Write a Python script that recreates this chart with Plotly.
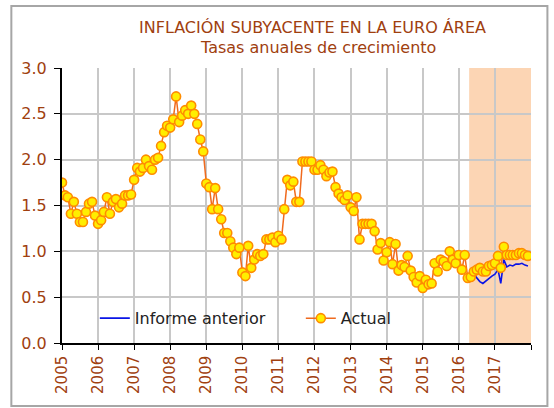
import pandas as pd
import plotly.graph_objects as go

# Monthly annual growth rates (%), Jan 2005 - Dec 2017
actual_2005 = [1.75, 1.61, 1.59, 1.41, 1.54, 1.41, 1.32, 1.32, 1.43, 1.52, 1.54, 1.39]
actual_2006 = [1.30, 1.34, 1.43, 1.59, 1.41, 1.54, 1.57, 1.48, 1.52, 1.61, 1.61, 1.62]
actual_2007 = [1.78, 1.91, 1.87, 1.91, 2.00, 1.93, 1.89, 2.00, 2.02, 2.15, 2.30, 2.37]
actual_2008 = [2.35, 2.44, 2.69, 2.41, 2.48, 2.54, 2.50, 2.59, 2.50, 2.39, 2.22, 2.09]
actual_2009 = [1.74, 1.70, 1.46, 1.69, 1.46, 1.35, 1.20, 1.20, 1.11, 1.04, 0.97, 1.04]
actual_2010 = [0.77, 0.73, 1.06, 0.82, 0.91, 0.97, 0.95, 0.97, 1.13, 1.13, 1.15, 1.10]
actual_2011 = [1.17, 1.13, 1.46, 1.78, 1.72, 1.76, 1.54, 1.54, 1.98, 1.98, 1.98, 1.98]
actual_2012 = [1.89, 1.89, 1.94, 1.89, 1.82, 1.86, 1.87, 1.70, 1.63, 1.59, 1.56, 1.61]
actual_2013 = [1.48, 1.44, 1.59, 1.13, 1.30, 1.30, 1.30, 1.30, 1.22, 1.02, 1.09, 0.90]
actual_2014 = [0.99, 1.10, 0.86, 1.08, 0.79, 0.85, 0.83, 0.95, 0.79, 0.72, 0.66, 0.73]
actual_2015 = [0.60, 0.69, 0.64, 0.65, 0.87, 0.78, 0.91, 0.89, 0.84, 1.00, 0.91, 0.87]
actual_2016 = [0.96, 0.80, 0.96, 0.71, 0.72, 0.78, 0.80, 0.82, 0.78, 0.78, 0.84, 0.85]
actual_2017 = [0.87, 0.95, 0.82, 1.05, 0.96, 0.96, 0.96, 0.96, 0.98, 0.98, 0.96, 0.95]

# Previous report forecast, Apr 2016 - Dec 2017
previous = [0.71, 0.72, 0.75, 0.71, 0.67, 0.65, 0.68, 0.71, 0.73, 0.75, 0.80,
            0.65, 0.91, 0.83, 0.85, 0.84, 0.86, 0.86, 0.87, 0.85, 0.84]

years = list(range(2005, 2019))
year_labels = [str(y) for y in years[:-1]] + [""]
forecast_start = "2016-04-15"
forecast_end = "2018-01-01"

actual = (actual_2005 + actual_2006 + actual_2007 + actual_2008 + actual_2009
          + actual_2010 + actual_2011 + actual_2012 + actual_2013 + actual_2014
          + actual_2015 + actual_2016 + actual_2017)
months = pd.date_range("2005-01-01", periods=len(actual), freq="MS")
prev_months = pd.date_range("2016-04-01", periods=len(previous), freq="MS")

brown = "#a0400f"
font = "DejaVu Sans"

fig = go.Figure()

fig.add_trace(go.Scatter(
    x=prev_months, y=previous, mode="lines", name="Informe anterior",
    line=dict(color="#0a14e6", width=1.6)
))

fig.add_trace(go.Scatter(
    x=months, y=actual, mode="lines+markers", name="Actual",
    line=dict(color="#f06a1e", width=1.5),
    marker=dict(symbol="circle", size=9, color="#ffee00",
                line=dict(color="#ff8c00", width=1.6))
))

# forecast shading
fig.add_shape(type="rect", xref="x", yref="paper",
              x0=forecast_start, x1=forecast_end, y0=0, y1=1,
              fillcolor="#fcd5b4", line_width=0, layer="between")

# outer frame of the chart
fig.add_shape(type="rect", xref="paper", yref="paper",
              x0=-0.108, x1=1.035, y0=-0.229, y1=1.2255,
              line=dict(color="#a6a6a6", width=2), layer="above")

fig.add_annotation(text="INFLACIÓN SUBYACENTE EN LA EURO ÁREA",
                   xref="paper", yref="paper", x=0.534, y=1.149, yanchor="middle",
                   showarrow=False, font=dict(family=font, size=16, color=brown))
fig.add_annotation(text="Tasas anuales de crecimiento",
                   xref="paper", yref="paper", x=0.545, y=1.073, yanchor="middle",
                   showarrow=False, font=dict(family=font, size=16, color=brown))

fig.update_layout(
    width=554, height=408,
    margin=dict(l=62, r=23, t=68, b=65),
    paper_bgcolor="white", plot_bgcolor="white",
    showlegend=True,
    legend=dict(orientation="h", x=0.07, y=0.09, xanchor="left", yanchor="middle",
                bgcolor="rgba(255,255,255,0)", font=dict(family=font, size=16, color="#222222"),
                entrywidth=161, entrywidthmode="pixels", traceorder="normal"),
    xaxis=dict(
        type="date", range=["2005-01-01", "2018-01-01"],
        tickvals=[f"{y}-01-01" for y in years], ticktext=year_labels,
        tickangle=-90, ticks="outside", ticklen=5, tickcolor="black",
        showgrid=True, gridcolor="#c8c8c8", gridwidth=1.5,
        showline=True, linecolor="black", linewidth=1.5,
        tickfont=dict(family=font, size=15, color=brown),
    ),
    yaxis=dict(
        range=[0, 3], dtick=0.5, tickformat=".1f",
        ticks="outside", ticklen=6, tickcolor="black",
        showgrid=True, gridcolor="#c8c8c8", gridwidth=1.5,
        showline=True, linecolor="black", linewidth=2, zeroline=False,
        tickfont=dict(family=font, size=16, color=brown),
        ticklabelstandoff=4,
    ),
)

fig.write_html("out.html", config={"displayModeBar": False},
               post_script="document.body.style.margin='0';")
